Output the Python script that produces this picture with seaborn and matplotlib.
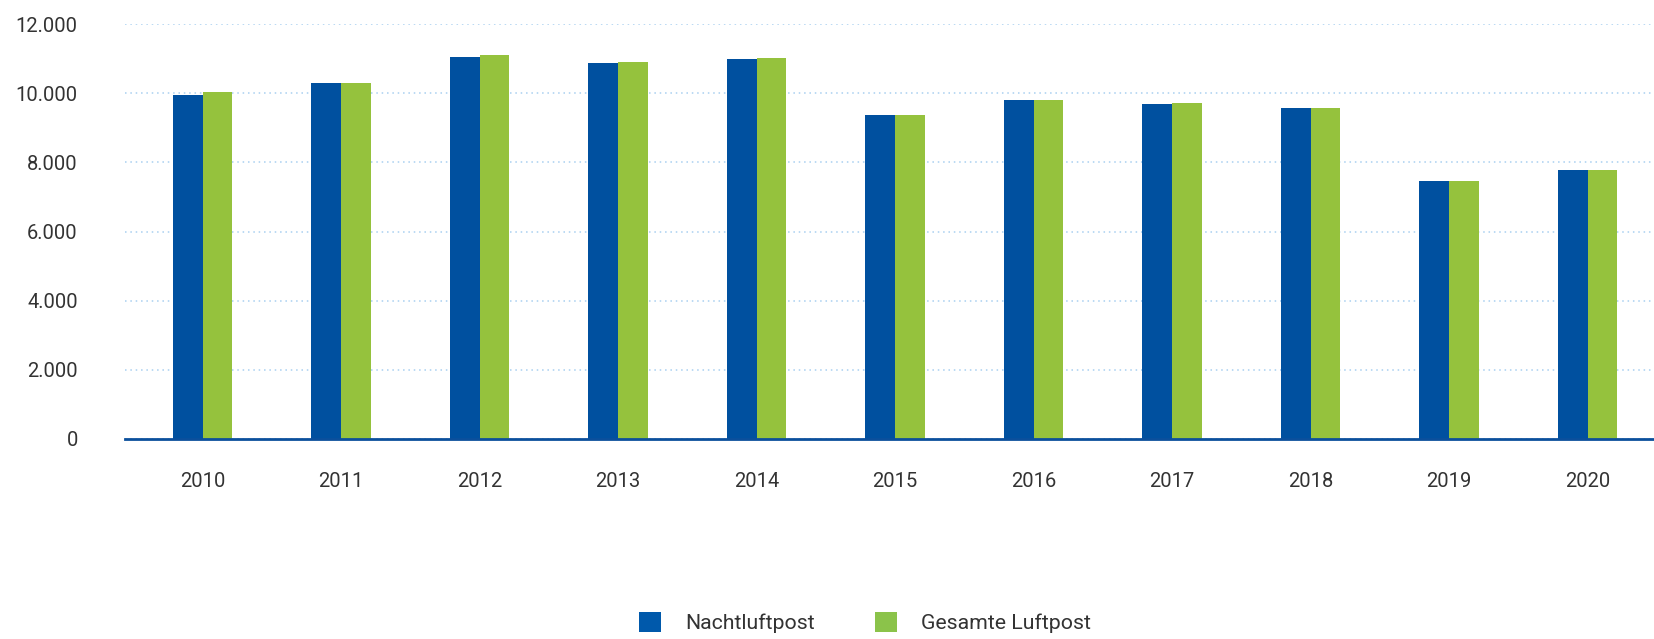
import matplotlib
matplotlib.use("Agg")
import matplotlib.pyplot as plt
import seaborn as sns
import pandas as pd
from matplotlib.patches import Patch
from matplotlib.ticker import FuncFormatter

years = ["2010", "2011", "2012", "2013", "2014", "2015", "2016", "2017", "2018", "2019", "2020"]
nachtluftpost = [9960, 10280, 11060, 10885, 11000, 9360, 9790, 9675, 9560, 7455, 7770]
gesamte_luftpost = [10020, 10280, 11090, 10915, 11030, 9360, 9790, 9705, 9560, 7455, 7770]
series_names = ["Nachtluftpost", "Gesamte Luftpost"]
y_ticks = [0, 2000, 4000, 6000, 8000, 10000, 12000]

blue = "#00509F"
green = "#95C23D"
text_col = "#333333"

df = pd.DataFrame({
    "Jahr": years * 2,
    "Wert": nachtluftpost + gesamte_luftpost,
    "Serie": [series_names[0]] * len(years) + [series_names[1]] * len(years),
})

sns.set_theme(style="white")
plt.rcParams["font.family"] = ["Roboto", "DejaVu Sans"]

fig = plt.figure(figsize=(16.54, 6.39), dpi=100)
ax = fig.add_axes([125 / 1654, 1 - 439 / 639, 1 - 125 / 1654, (439 - 24) / 639])

sns.barplot(data=df, x="Jahr", y="Wert", hue="Serie", order=years,
            hue_order=series_names, palette=[blue, green], width=0.43,
            gap=0, saturation=1, linewidth=0, ax=ax, legend=False)

ax.set_ylim(0, 12000)
ax.set_xlim(-0.56, 10.48)
ax.set_yticks(y_ticks)
ax.yaxis.set_major_formatter(FuncFormatter(lambda v, p: f"{int(v):,}".replace(",", ".")))
ax.set_xlabel("")
ax.set_ylabel("")

ax.grid(axis="y", color="#A8CFF0", linestyle=(0, (1, 2.5)), linewidth=1.1)
ax.grid(axis="x", visible=False)
ax.set_axisbelow(True)
for s in ["top", "right", "left"]:
    ax.spines[s].set_visible(False)
ax.spines["bottom"].set_color("#0B4F9C")
ax.spines["bottom"].set_linewidth(2)
ax.spines["bottom"].set_zorder(5)

ax.tick_params(axis="x", length=0, pad=24, labelsize=14.5, labelcolor=text_col)
ax.tick_params(axis="y", length=0, pad=34, labelsize=14.5, labelcolor=text_col)

handles = [Patch(facecolor="#0059AB", edgecolor="none"), Patch(facecolor="#8BC34A", edgecolor="none")]
leg = fig.legend(handles, series_names, loc="center", bbox_to_anchor=(0.523, 0.026), ncol=2,
                 frameon=False, fontsize=15.3, handlelength=1.05, handleheight=1.05,
                 handletextpad=1.15, columnspacing=2.8)
for t in leg.get_texts():
    t.set_color(text_col)

fig.savefig("out.png", dpi=100)
